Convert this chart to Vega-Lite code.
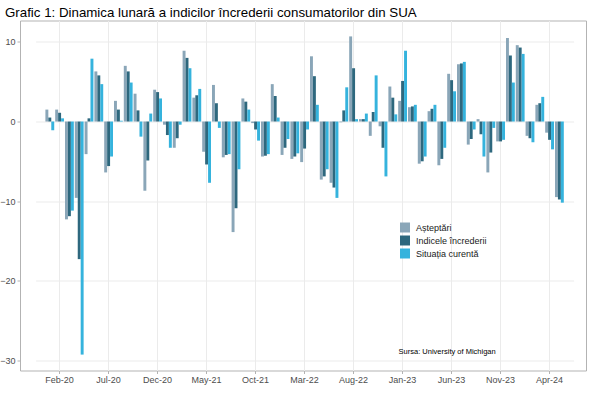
{
  "$schema": "https://vega.github.io/schema/vega-lite/v6.json",
  "width": 566,
  "height": 350,
  "autosize": {"type": "none"},
  "padding": {"left": 20, "top": 20.5, "right": 14, "bottom": 27},
  "background": "white",
  "title": {"text": "Grafic 1: Dinamica lunară a indicilor încrederii consumatorilor din SUA", "anchor": "start", "frame": "group", "fontSize": 13.3, "font": "Liberation Sans", "fontWeight": "normal", "color": "#000000", "offset": 1, "dx": -15},
  "config": {"view": {"stroke": "#b3b3b3", "strokeWidth": 1}, "font": "Liberation Sans"},
  "data": {"values": [
    {"luna": "Jan-20", "a": 1.5, "i": 0.5, "s": -1.1},
    {"luna": "Feb-20", "a": 1.5, "i": 1.1, "s": 0.4},
    {"luna": "Mar-20", "a": -12.3, "i": -11.9, "s": -11.2},
    {"luna": "Apr-20", "a": -9.6, "i": -17.3, "s": -29.3},
    {"luna": "May-20", "a": -4.1, "i": 0.4, "s": 7.9},
    {"luna": "Jun-20", "a": 6.3, "i": 5.8, "s": 4.7},
    {"luna": "Jul-20", "a": -6.4, "i": -5.6, "s": -4.4},
    {"luna": "Aug-20", "a": 2.6, "i": 1.5, "s": 0.1},
    {"luna": "Sep-20", "a": 7.0, "i": 6.3, "s": 4.9},
    {"luna": "Oct-20", "a": 3.5, "i": 1.4, "s": -1.9},
    {"luna": "Nov-20", "a": -8.7, "i": -4.9, "s": 1.0},
    {"luna": "Dec-20", "a": 4.0, "i": 3.7, "s": 2.9},
    {"luna": "Jan-21", "a": -0.4, "i": -1.7, "s": -3.3},
    {"luna": "Feb-21", "a": -3.3, "i": -2.1, "s": -0.4},
    {"luna": "Mar-21", "a": 8.9, "i": 8.0, "s": 6.7},
    {"luna": "Apr-21", "a": 3.0, "i": 3.3, "s": 4.1},
    {"luna": "May-21", "a": -3.8, "i": -5.4, "s": -7.7},
    {"luna": "Jun-21", "a": 4.6, "i": 2.3, "s": -0.8},
    {"luna": "Jul-21", "a": -4.5, "i": -4.2, "s": -4.1},
    {"luna": "Aug-21", "a": -13.9, "i": -10.9, "s": -6.0},
    {"luna": "Sep-21", "a": 2.9, "i": 2.5, "s": 1.5},
    {"luna": "Oct-21", "a": -0.2, "i": -1.0, "s": -2.4},
    {"luna": "Nov-21", "a": -4.4, "i": -4.3, "s": -4.1},
    {"luna": "Dec-21", "a": 4.7, "i": 3.2, "s": 0.5},
    {"luna": "Jan-22", "a": -4.2, "i": -3.3, "s": -2.2},
    {"luna": "Feb-22", "a": -4.7, "i": -4.4, "s": -4.0},
    {"luna": "Mar-22", "a": -5.1, "i": -3.4, "s": -1.0},
    {"luna": "Apr-22", "a": 8.2, "i": 5.7, "s": 2.1},
    {"luna": "May-22", "a": -7.3, "i": -6.9, "s": -6.0},
    {"luna": "Jun-22", "a": -7.7, "i": -8.3, "s": -9.6},
    {"luna": "Jul-22", "a": -0.1, "i": 1.4, "s": 4.3},
    {"luna": "Aug-22", "a": 10.7, "i": 6.7, "s": 0.3},
    {"luna": "Sep-22", "a": 0.3, "i": 0.3, "s": 1.0},
    {"luna": "Oct-22", "a": -1.8, "i": 1.2, "s": 5.8},
    {"luna": "Nov-22", "a": -0.6, "i": -3.3, "s": -6.9},
    {"luna": "Dec-22", "a": 4.4, "i": 3.0, "s": 0.9},
    {"luna": "Jan-23", "a": 2.6, "i": 5.1, "s": 8.9},
    {"luna": "Feb-23", "a": 1.8, "i": 1.9, "s": 2.1},
    {"luna": "Mar-23", "a": -5.3, "i": -5.0, "s": -4.4},
    {"luna": "Apr-23", "a": 1.3, "i": 1.6, "s": 2.1},
    {"luna": "May-23", "a": -5.5, "i": -4.7, "s": -3.3},
    {"luna": "Jun-23", "a": 6.0, "i": 5.2, "s": 3.8},
    {"luna": "Jul-23", "a": 7.2, "i": 7.3, "s": 7.5},
    {"luna": "Aug-23", "a": -2.9, "i": -2.2, "s": -1.0},
    {"luna": "Sep-23", "a": 0.3, "i": -1.6, "s": -4.4},
    {"luna": "Oct-23", "a": -6.4, "i": -3.9, "s": -0.8},
    {"luna": "Nov-23", "a": -2.5, "i": -2.5, "s": -2.3},
    {"luna": "Dec-23", "a": 10.5, "i": 8.3, "s": 4.9},
    {"luna": "Jan-24", "a": 9.6, "i": 9.3, "s": 8.5},
    {"luna": "Feb-24", "a": -1.8, "i": -2.1, "s": -2.6},
    {"luna": "Mar-24", "a": 2.1, "i": 2.3, "s": 3.1},
    {"luna": "Apr-24", "a": -1.4, "i": -2.3, "s": -3.5},
    {"luna": "May-24", "a": -9.5, "i": -9.8, "s": -10.2}
  ]},
  "transform": [{"fold": ["a", "i", "s"], "as": ["serie", "val"]}],
  "layer": [
    {
      "mark": {"type": "bar"},
      "encoding": {
        "x": {
          "field": "luna", "type": "ordinal", "sort": null,
          "scale": {"paddingInner": 0.1, "paddingOuter": 1, "range": [15.6, 553.6]},
          "axis": {
            "values": ["Feb-20", "Jul-20", "Dec-20", "May-21", "Oct-21", "Mar-22", "Aug-22", "Jan-23", "Jun-23", "Nov-23", "Apr-24"],
            "bandPosition": 0.5, "title": null, "labelAngle": 0, "grid": true, "gridColor": "#ebebeb", "gridWidth": 1,
            "domain": false, "tickColor": "#b3b3b3", "tickSize": 3, "labelFontSize": 9, "labelColor": "#4d4d4d", "labelPadding": 2, "labelFont": "Liberation Sans"
          }
        },
        "xOffset": {"field": "serie", "type": "nominal", "scale": {"paddingInner": 0}},
        "y": {
          "field": "val", "type": "quantitative",
          "scale": {"domain": [-31.3, 12.7], "nice": false, "zero": false},
          "axis": {
            "values": [-30, -20, -10, 0, 10], "title": null, "grid": true, "gridColor": "#ebebeb", "gridWidth": 1,
            "domain": false, "tickColor": "#b3b3b3", "tickSize": 3, "labelFontSize": 9, "labelColor": "#4d4d4d", "labelPadding": 2, "labelFont": "Liberation Sans"
          }
        },
        "color": {
          "field": "serie", "type": "nominal",
          "scale": {"domain": ["a", "i", "s"], "range": ["#8aa6b8", "#2e687e", "#35b3dd"]},
          "legend": {
            "orient": "none", "legendX": 380, "legendY": 202, "title": null,
            "symbolType": "square", "symbolSize": 100, "symbolStrokeWidth": 0, "rowPadding": 3,
            "labelFontSize": 9, "labelColor": "#1a1a1a", "labelOffset": 6, "labelFont": "Liberation Sans", "padding": 0,
            "labelExpr": "datum.value == 'a' ? 'Așteptări' : (datum.value == 'i' ? 'Indicele încrederii' : 'Situația curentă')"
          }
        }
      }
    },
    {
      "data": {"values": [{}]},
      "mark": {"type": "text", "align": "left", "baseline": "middle", "fontSize": 7.5, "font": "Liberation Sans", "color": "#000000", "dx": -4},
      "encoding": {
        "x": {"datum": "Jan-23"},
        "y": {"datum": -29.0},
        "text": {"value": "Sursa: University of Michigan"}
      }
    }
  ]
}
